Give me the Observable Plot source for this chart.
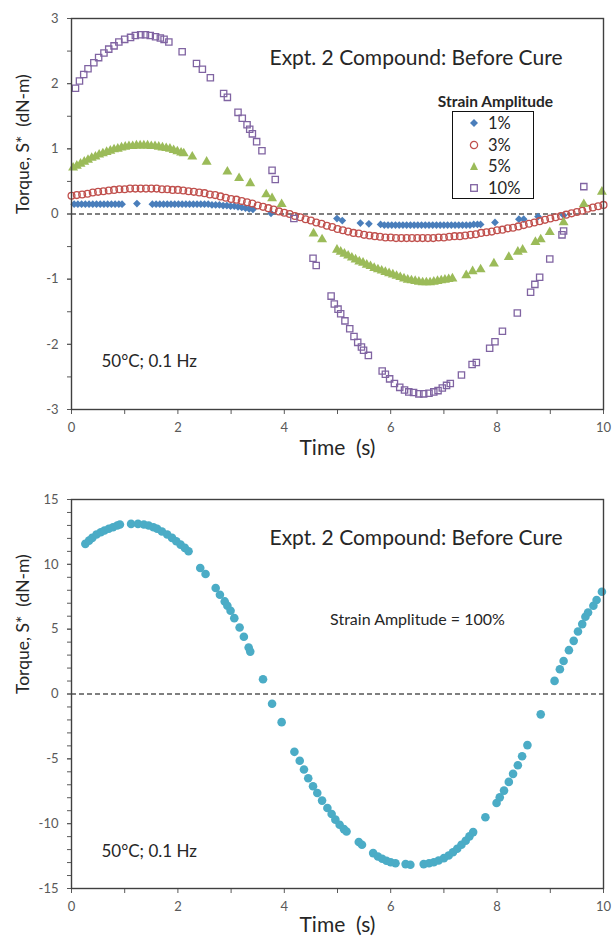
<!DOCTYPE html>
<html><head><meta charset="utf-8">
<script src="https://cdn.jsdelivr.net/npm/d3@7"></script>
<script src="https://cdn.jsdelivr.net/npm/@observablehq/plot@0.6"></script>
<style>
body{margin:0;background:#fff;font-family:Lato,"Open Sans",sans-serif;}
#wrap{position:relative;width:613px;height:945px;overflow:hidden}
#wrap svg{display:block}
.legend{position:absolute;left:452px;top:111px;width:82px;height:88px;border:1.3px solid #111;box-sizing:border-box;background:#fff}
.legend .it{position:absolute;left:0;height:20px;width:80px;font-size:16.5px;color:#262626;line-height:20px}
.legend .it svg{position:absolute;left:15px;top:4px}
.legend .it span{position:absolute;left:35px;top:0}
</style></head>
<body><div id="wrap"></div>
<script>
// ---------- data (time s, torque dN-m) ----------
const seriesNames = ["1%", "3%", "5%", "10%"];
const xTicks = [0, 2, 4, 6, 8, 10];
const xMinor = [1, 3, 5, 7, 9];
const yTicksTop = [-3, -2, -1, 0, 1, 2, 3];
const yTicksBottom = [-15, -10, -5, 0, 5, 10, 15];

const amp1 = [[0.05,0.15],[0.12,0.15],[0.19,0.15],[0.26,0.15],[0.33,0.15],[0.40,0.15],[0.47,0.15],[0.54,0.15],[0.61,0.15],[0.68,0.15],[0.75,0.15],[0.82,0.15],[0.89,0.15],[0.95,0.15],[1.23,0.16],
[1.52,0.15],[1.59,0.15],[1.66,0.15],[1.73,0.15],[1.80,0.15],[1.87,0.15],[1.94,0.15],[2.01,0.15],[2.08,0.15],[2.15,0.15],[2.22,0.15],[2.29,0.15],[2.36,0.15],[2.43,0.15],[2.50,0.15],
[2.57,0.15],[2.64,0.14],[2.71,0.14],[2.78,0.14],[2.85,0.13],[2.92,0.13],[2.99,0.12],[3.06,0.12],[3.13,0.11],[3.20,0.10],[3.27,0.09],[3.34,0.08],[3.41,0.07],[3.75,0.01],
[4.99,-0.07],[5.09,-0.10],[5.43,-0.14],[5.59,-0.15],
[5.81,-0.16],[5.88,-0.17],[5.95,-0.17],[6.02,-0.17],[6.09,-0.17],[6.16,-0.17],[6.23,-0.17],[6.30,-0.17],[6.37,-0.17],[6.44,-0.17],[6.51,-0.17],[6.58,-0.17],[6.65,-0.17],[6.72,-0.17],
[6.79,-0.17],[6.86,-0.17],[6.93,-0.17],[7.00,-0.17],[7.07,-0.17],[7.14,-0.17],[7.21,-0.17],[7.28,-0.17],[7.35,-0.17],[7.42,-0.17],[7.49,-0.17],[7.56,-0.16],[7.63,-0.16],[7.69,-0.16],
[7.96,-0.13],[8.41,-0.08],[8.50,-0.08],[8.77,-0.04],[9.25,-0.02]];

const amp3 = [[0.0,0.28],[0.1,0.29],[0.2,0.30],[0.3,0.31],[0.4,0.33],[0.5,0.34],[0.6,0.35],[0.7,0.36],[0.8,0.37],[0.9,0.38],
[1.0,0.38],[1.1,0.39],[1.2,0.39],[1.3,0.39],[1.4,0.39],[1.5,0.39],[1.6,0.39],[1.7,0.38],[1.8,0.38],[1.9,0.37],
[2.0,0.37],[2.1,0.36],[2.2,0.35],[2.3,0.34],[2.4,0.33],[2.5,0.32],[2.6,0.30],[2.7,0.29],[2.8,0.27],[2.9,0.25],
[3.0,0.23],[3.1,0.22],[3.2,0.20],[3.3,0.18],[3.4,0.16],[3.5,0.13],[3.6,0.11],[3.7,0.09],[3.8,0.07],[3.9,0.04],
[4.0,0.02],[4.1,0.00],[4.2,-0.03],[4.3,-0.05],[4.4,-0.08],[4.5,-0.10],[4.6,-0.13],[4.7,-0.15],[4.8,-0.18],[4.9,-0.20],
[5.0,-0.23],[5.1,-0.25],[5.2,-0.27],[5.3,-0.29],[5.4,-0.30],[5.5,-0.32],[5.6,-0.33],[5.7,-0.34],[5.8,-0.35],[5.9,-0.36],
[6.0,-0.36],[6.1,-0.37],[6.2,-0.37],[6.3,-0.37],[6.4,-0.37],[6.5,-0.37],[6.6,-0.37],[6.7,-0.37],[6.8,-0.37],[6.9,-0.36],
[7.0,-0.36],[7.1,-0.35],[7.2,-0.34],[7.3,-0.34],[7.4,-0.33],[7.5,-0.32],[7.6,-0.31],[7.7,-0.29],[7.8,-0.28],[7.9,-0.27],
[8.0,-0.25],[8.1,-0.24],[8.2,-0.22],[8.3,-0.21],[8.4,-0.19],[8.5,-0.17],[8.6,-0.15],[8.7,-0.13],[8.8,-0.11],[8.9,-0.09],
[9.0,-0.07],[9.1,-0.05],[9.2,-0.03],[9.3,-0.01],[9.4,0.01],[9.5,0.03],[9.6,0.05],[9.7,0.08],[9.8,0.10],[9.9,0.12],[10.0,0.14]];

const amp5 = [[0.03,0.71],[0.10,0.74],[0.17,0.77],[0.24,0.80],[0.31,0.83],[0.38,0.86],[0.45,0.88],[0.52,0.91],[0.59,0.93],[0.66,0.95],
[0.73,0.97],[0.80,0.99],[0.87,1.00],[0.94,1.02],[1.01,1.03],[1.08,1.04],[1.15,1.04],[1.22,1.05],[1.29,1.05],[1.36,1.05],
[1.43,1.05],[1.50,1.04],[1.57,1.04],[1.64,1.03],[1.71,1.02],[1.78,1.01],[1.85,1.00],[1.92,0.98],[1.99,0.96],[2.06,0.94],[2.11,0.93],
[2.27,0.88],[2.54,0.80],[2.93,0.65],[3.15,0.55],[3.36,0.47],[3.66,0.30],[3.77,0.24],[3.95,0.15],[4.55,-0.30],[4.71,-0.39],
[4.99,-0.55],[5.06,-0.58],[5.13,-0.61],[5.20,-0.64],[5.27,-0.67],[5.34,-0.70],[5.41,-0.73],[5.48,-0.75],[5.55,-0.78],[5.62,-0.80],
[5.69,-0.83],[5.76,-0.85],[5.83,-0.87],[5.90,-0.89],[5.97,-0.91],[6.04,-0.93],[6.11,-0.95],[6.18,-0.97],[6.25,-0.99],[6.32,-1.01],
[6.39,-1.02],[6.46,-1.03],[6.53,-1.04],[6.60,-1.05],[6.67,-1.05],[6.74,-1.05],[6.81,-1.04],[6.88,-1.03],[6.95,-1.02],[7.02,-1.01],
[7.09,-1.00],[7.16,-0.99],
[7.42,-0.94],[7.54,-0.88],[7.69,-0.85],[7.94,-0.76],[8.22,-0.66],[8.39,-0.58],[8.48,-0.55],[8.72,-0.43],[8.82,-0.39],[8.99,-0.28],
[9.25,-0.13],[9.63,0.15],[9.97,0.34]];

const amp10 = [[0.075,1.93],[0.15,2.04],[0.23,2.14],[0.31,2.23],[0.42,2.32],[0.51,2.40],[0.61,2.47],[0.70,2.53],[0.80,2.58],[0.89,2.64],
[1.00,2.68],[1.11,2.71],[1.20,2.74],[1.30,2.75],[1.39,2.75],[1.48,2.74],[1.58,2.72],[1.67,2.70],[1.74,2.68],[1.83,2.64],
[2.08,2.49],[2.35,2.31],[2.46,2.22],[2.61,2.09],[2.86,1.85],[2.93,1.79],[3.13,1.56],[3.21,1.47],[3.30,1.37],[3.35,1.30],
[3.40,1.23],[3.48,1.11],[3.58,0.97],[3.77,0.67],[3.83,0.53],[4.18,-0.07],[4.54,-0.68],[4.60,-0.79],[4.88,-1.26],[4.94,-1.38],
[5.01,-1.46],[5.06,-1.53],[5.14,-1.64],[5.23,-1.76],[5.31,-1.88],[5.38,-1.97],[5.45,-2.04],[5.49,-2.09],[5.58,-2.17],[5.84,-2.41],
[5.90,-2.46],[5.98,-2.53],[6.07,-2.60],[6.17,-2.66],[6.26,-2.70],[6.34,-2.73],[6.43,-2.74],[6.53,-2.76],[6.62,-2.76],[6.72,-2.75],
[6.81,-2.73],[6.89,-2.71],[6.97,-2.67],[7.05,-2.63],[7.12,-2.60],[7.33,-2.47],[7.53,-2.31],[7.61,-2.28],[7.86,-2.06],[7.96,-1.96],
[8.10,-1.80],[8.38,-1.52],[8.63,-1.20],[8.71,-1.08],[8.80,-0.97],[8.99,-0.69],[9.22,-0.32],[9.25,-0.26],[9.63,0.42]];

const amp100 = [[0.26,11.58],[0.33,11.83],[0.39,12.04],[0.47,12.30],[0.55,12.48],[0.62,12.61],[0.70,12.74],[0.78,12.86],[0.86,12.99],[0.91,13.07],
[1.12,13.12],[1.25,13.12],[1.36,13.07],[1.45,12.99],[1.54,12.86],[1.61,12.74],[1.70,12.53],[1.80,12.30],[1.89,12.04],[1.97,11.78],
[2.05,11.52],[2.13,11.27],[2.20,11.01],[2.42,9.72],[2.52,9.26],[2.71,8.17],[2.79,7.66],[2.88,7.14],[2.93,6.81],[2.99,6.42],
[3.06,5.85],[3.16,5.13],[3.24,4.41],[3.33,3.58],[3.36,3.27],[3.60,1.14],[3.77,-0.75],[3.95,-2.17],[4.19,-4.46],[4.29,-5.15],
[4.37,-5.82],[4.45,-6.50],[4.54,-7.12],[4.62,-7.63],[4.71,-8.22],[4.81,-8.79],[4.89,-9.26],[4.96,-9.69],[5.04,-10.08],[5.12,-10.42],
[5.17,-10.60],[5.40,-11.42],[5.46,-11.63],[5.67,-12.27],[5.76,-12.53],[5.84,-12.71],[5.92,-12.86],[6.00,-12.97],[6.09,-13.05],[6.28,-13.12],
[6.37,-13.17],[6.62,-13.12],[6.72,-13.05],[6.81,-12.97],[6.90,-12.84],[7.00,-12.66],[7.09,-12.45],[7.17,-12.20],[7.25,-11.94],[7.33,-11.63],
[7.41,-11.32],[7.48,-10.98],[7.55,-10.65],[7.78,-9.51],[7.99,-8.41],[8.05,-7.97],[8.13,-7.45],[8.22,-6.78],[8.30,-6.16],[8.39,-5.49],
[8.47,-4.80],[8.57,-3.94],[8.82,-1.57],[9.08,1.01],[9.18,1.91],[9.25,2.55],[9.35,3.38],[9.44,4.10],[9.52,4.82],[9.60,5.39],
[9.66,5.96],[9.71,6.29],[9.81,6.81],[9.87,7.25],[9.97,7.89]];

// ---------- helpers ----------
const rows = a => a.map(([t, v]) => ({t, v}));
const FONT = "Lato, 'Open Sans', sans-serif";
const TXT = "#262626";
const wrap = document.getElementById("wrap");

function axes(yMajor, yMinor) {
  return [
    Plot.axisX({ticks: xTicks, tickSize: 5, tickPadding: 8, tickFormat: d => String(d), label: null, color: "#595959", fontSize: 13}),
    Plot.axisX({ticks: xMinor, tickSize: 5, tickFormat: () => "", label: null, color: "#595959"}),
    Plot.axisY({ticks: yMajor, tickSize: 4, tickPadding: 9, tickFormat: d => String(d), label: null, color: "#595959", fontSize: 13}),
    Plot.axisY({ticks: yMinor, tickSize: 4, tickFormat: () => "", label: null, color: "#595959"}),
    Plot.frame({stroke: "#404040", strokeWidth: 1.4})
  ];
}
function labels(title, titleDy, condDy, xLabelDy) {
  return [
    Plot.text([title], {text: d => d, frameAnchor: "top-left", dx: 198, dy: titleDy, textAnchor: "start", fontSize: 21, fill: TXT}),
    Plot.text(["50°C; 0.1 Hz"], {text: d => d, frameAnchor: "bottom-left", dx: 30, dy: condDy, textAnchor: "start", fontSize: 17, fill: TXT}),
    Plot.text(["Torque, S*\u00a0 (dN-m)"], {text: d => d, frameAnchor: "left", dx: -48, rotate: -90, fontSize: 17.5, fill: TXT}),
    Plot.text(["Time\u00a0 (s)"], {text: d => d, frameAnchor: "bottom", dy: xLabelDy, fontSize: 21, fill: TXT})
  ];
}

// ---------- top chart ----------
const chartTop = Plot.plot({
  width: 613, height: 470,
  marginLeft: 71, marginRight: 10, marginTop: 18, marginBottom: 61,
  style: {fontFamily: FONT, background: "transparent", overflow: "visible"},
  x: {domain: [0, 10]},
  y: {domain: [-3, 3]},
  marks: [
    Plot.ruleY([0], {stroke: "#000", strokeDasharray: "5,3", strokeWidth: 1.2}),
    Plot.dot(rows(amp1), {x: "t", y: "v", symbol: "diamond2", r: 3.5, fill: "#4a7ebb", stroke: "none"}),
    Plot.dot(rows(amp3), {x: "t", y: "v", symbol: "circle", r: 3.4, fill: "none", stroke: "#c0504d", strokeWidth: 1.3}),
    Plot.dot(rows(amp5), {x: "t", y: "v", symbol: "triangle", r: 3.7, fill: "#9bbb59", stroke: "none"}),
    Plot.dot(rows(amp10), {x: "t", y: "v", symbol: "square2", r: 4, fill: "none", stroke: "#8064a2", strokeWidth: 1.3}),
    ...axes(yTicksTop, d3.range(-3, 3.01, 0.5)),
    ...labels("Expt. 2 Compound: Before Cure", 32, -43, 45),
    Plot.text(["Strain Amplitude"], {text: d => d, frameAnchor: "top-left", dx: 424, dy: 77, textAnchor: "middle", fontSize: 15.5, fontWeight: "bold", fill: TXT})
  ]
});
wrap.appendChild(chartTop);

// ---------- bottom chart ----------
const chartBottom = Plot.plot({
  width: 613, height: 475,
  marginLeft: 71, marginRight: 10, marginTop: 29, marginBottom: 57,
  style: {fontFamily: FONT, background: "transparent", overflow: "visible"},
  x: {domain: [0, 10]},
  y: {domain: [-15, 15]},
  marks: [
    Plot.ruleY([0], {stroke: "#000", strokeDasharray: "5,3", strokeWidth: 1.2}),
    Plot.dot(rows(amp100), {x: "t", y: "v", r: 4.3, fill: "#4bacc6", stroke: "none"}),
    ...axes(yTicksBottom, d3.range(-15, 15.01, 1)),
    ...labels("Expt. 2 Compound: Before Cure", 31, -32, 43),
    Plot.text(["Strain Amplitude = 100%"], {text: d => d, frameAnchor: "top-left", dx: 346, dy: 114, textAnchor: "middle", fontSize: 16, fill: TXT})
  ]
});
wrap.appendChild(chartBottom);

// ---------- legend (top chart) ----------
const glyphs = {
  "1%": '<polygon points="6,2 10,6 6,10 2,6" fill="#4a7ebb"/>',
  "3%": '<circle cx="6" cy="6" r="3.6" fill="none" stroke="#c0504d" stroke-width="1.3"/>',
  "5%": '<polygon points="6,2 10,10 2,10" fill="#9bbb59"/>',
  "10%": '<rect x="2.7" y="2.7" width="6.6" height="6.6" fill="none" stroke="#8064a2" stroke-width="1.3"/>'
};
const lg = document.createElement("div");
lg.className = "legend";
seriesNames.forEach((name, i) => {
  const it = document.createElement("div");
  it.className = "it";
  it.style.top = (1 + i * 21.7) + "px";
  it.innerHTML = `<svg width="12" height="12" viewBox="0 0 12 12">${glyphs[name]}</svg><span>${name}</span>`;
  lg.appendChild(it);
});
wrap.appendChild(lg);
</script>
</body></html>
